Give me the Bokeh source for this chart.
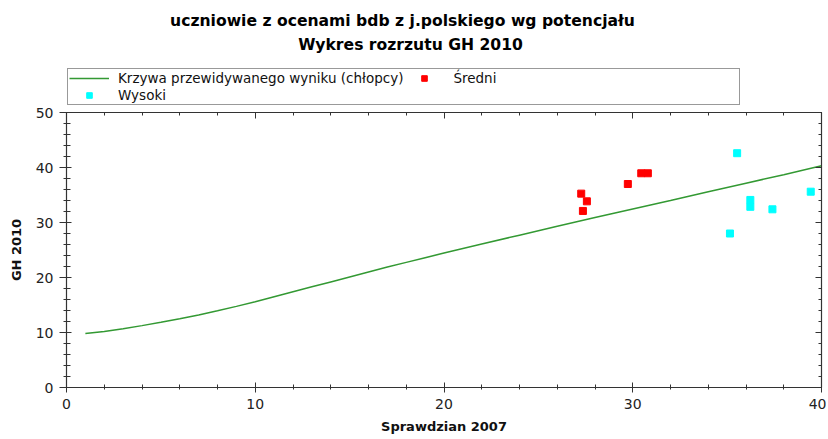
from bokeh.plotting import figure
from bokeh.layouts import column
from bokeh.models import (Range1d, LinearAxis, SingleIntervalTicker, Legend, LegendItem, Label,
                          CustomLabelingPolicy)
from bokeh.embed import file_html
from bokeh.resources import INLINE

# ---- data ----
title_line1 = "uczniowie z ocenami bdb z j.polskiego wg potencjału"
title_line2 = "Wykres rozrzutu GH 2010"
x_label = "Sprawdzian 2007"
y_label = "GH 2010"

curve_name = "Krzywa przewidywanego wyniku (chłopcy)"
curve_x = [1, 2, 3, 4, 5, 6, 7, 8, 9, 10, 11, 12, 13, 14, 15, 16, 17, 18, 19, 20,
           22, 24, 26, 28, 30, 32, 34, 36, 38, 40]
curve_y = [9.8, 10.2, 10.7, 11.25, 11.85, 12.5, 13.2, 13.95, 14.75, 15.6, 16.5, 17.4,
           18.3, 19.2, 20.1, 21.0, 21.9, 22.75, 23.6, 24.45, 26.1, 27.7, 29.3, 30.9,
           32.45, 34.0, 35.6, 37.15, 38.7, 40.3]

sredni_name = "Średni"
sredni_x = [27.27, 27.57, 27.36, 29.74, 30.45, 30.8]
sredni_y = [35.25, 33.85, 32.1, 37.0, 38.95, 38.95]

wysoki_name = "Wysoki"
wysoki_x = [35.53, 36.23, 36.23, 37.4, 35.15, 39.43]
wysoki_y = [42.6, 34.1, 32.85, 32.4, 28.0, 35.6]

FONT = "DejaVu Sans"
W = 826
HEAD_H = 106
MAIN_H = 331
BORDER_L = 66
BORDER_R = 5
LINE_COLOR = "#339933"
RED = "#ff0000"
CYAN = "#00ffff"
DARK = "#333333"
NAN = float("nan")

# ---------------- header (titles + legend) ----------------
# the column layout aligns the header's frame with the main plot's frame
head = figure(width=W, height=HEAD_H, output_backend="svg", toolbar_location=None,
              x_range=Range1d(BORDER_L, W - BORDER_R), y_range=Range1d(HEAD_H, 0),
              min_border_left=BORDER_L, min_border_right=BORDER_R,
              min_border_top=0, min_border_bottom=0,
              x_axis_type=None, y_axis_type=None)
head.xgrid.visible = False
head.ygrid.visible = False
head.outline_line_color = None
head.border_fill_color = "white"

head.add_layout(Label(x=402, y=20, text=title_line1, text_align="center",
                      text_baseline="alphabetic", text_font=FONT, text_font_size="15.6px",
                      text_font_style="bold", text_color="black"))
head.add_layout(Label(x=410, y=44, text=title_line2, text_align="center",
                      text_baseline="alphabetic", text_font=FONT, text_font_size="15.6px",
                      text_font_style="bold", text_color="black"))

# legend swatches (not drawn, only used by the legend)
lg_line = head.line(x=[NAN, NAN], y=[NAN, NAN], line_color=LINE_COLOR, line_width=1.5)
lg_sred = head.scatter(x=[NAN], y=[NAN], marker="square", size=7,
                       fill_color=RED, line_color=RED)
lg_wys = head.scatter(x=[NAN], y=[NAN], marker="square", size=7,
                      fill_color=CYAN, line_color=CYAN)

legend = Legend(items=[LegendItem(label=curve_name, renderers=[lg_line]),
                       LegendItem(label=wysoki_name, renderers=[lg_wys]),
                       LegendItem(label=sredni_name, renderers=[lg_sred])],
                location=(1, 1), orientation="vertical", nrows=2,
                padding=1, spacing=1, margin=0,
                glyph_width=40, glyph_height=14, label_height=14,
                label_width=285, label_standoff=9,
                label_text_font=FONT, label_text_font_size="13.5px",
                label_text_color="#111111",
                border_line_color=DARK, border_line_width=1.2,
                background_fill_color="white", background_fill_alpha=1.0)
head.add_layout(legend, "center")

# ---------------- main scatter plot ----------------
p = figure(width=W, height=MAIN_H, output_backend="svg", toolbar_location=None,
           x_range=Range1d(0, 40), y_range=Range1d(0, 50),
           min_border_left=BORDER_L, min_border_top=6, min_border_bottom=50,
           min_border_right=BORDER_R,
           x_axis_type=None, y_axis_type=None)
p.xgrid.visible = False
p.ygrid.visible = False
p.outline_line_color = DARK
p.outline_line_width = 1.2
p.background_fill_color = "white"
p.border_fill_color = "white"

def mk_axis(label=None, show_labels=True):
    ax = LinearAxis(ticker=SingleIntervalTicker(interval=10, num_minor_ticks=5))
    ax.axis_line_color = DARK
    ax.major_tick_line_color = DARK
    ax.minor_tick_line_color = DARK
    ax.major_label_text_font = FONT
    ax.major_label_text_font_size = "14px"
    ax.major_label_text_color = "#222222"
    if label:
        ax.axis_label = label
        ax.axis_label_text_font = FONT
        ax.axis_label_text_font_size = "13px"
        ax.axis_label_text_font_style = "bold"
        ax.axis_label_text_color = "#111111"
    if not show_labels:
        # tick marks only (inside), no labels
        ax.major_label_policy = CustomLabelingPolicy(
            code="for (const i of indices) { indices.unset(i) } return indices")
        ax.major_label_text_font_size = "0px"
        ax.major_label_standoff = 0
        ax.major_tick_out = 0
        ax.minor_tick_out = 0
        ax.major_tick_in = 6
        ax.minor_tick_in = 3
    return ax

bottom = mk_axis(x_label)
bottom.major_tick_in = 5
bottom.major_tick_out = 5
bottom.minor_tick_in = 3
bottom.minor_tick_out = 2
bottom.major_label_standoff = 6
bottom.axis_label_standoff = 7
p.add_layout(bottom, "below")

left = mk_axis(y_label)
left.major_tick_in = 5
left.major_tick_out = 7
left.minor_tick_in = 4
left.minor_tick_out = 3
left.major_label_standoff = 6
left.axis_label_standoff = 9
p.add_layout(left, "left")

p.add_layout(mk_axis(show_labels=False), "above")
p.add_layout(mk_axis(show_labels=False), "right")

p.line(curve_x, curve_y, line_color=LINE_COLOR, line_width=1.5)
p.scatter(sredni_x, sredni_y, marker="square", size=7, fill_color=RED, line_color=RED)
p.scatter(wysoki_x, wysoki_y, marker="square", size=7, fill_color=CYAN, line_color=CYAN)

layout = column(head, p, spacing=0)
open("out.html", "w").write(file_html(layout, INLINE))
